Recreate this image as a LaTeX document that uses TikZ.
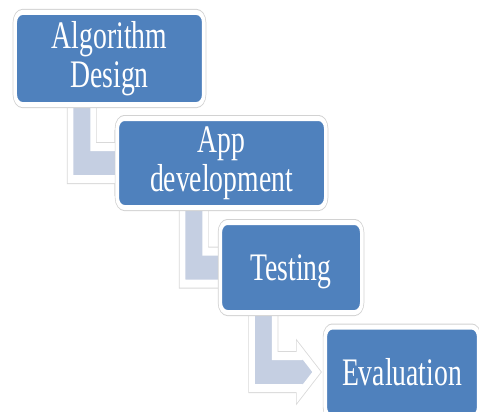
\documentclass[tikz,border=0pt]{standalone}
\usepackage{fontspec}
\setmainfont{Liberation Serif}
\usetikzlibrary{backgrounds,calc}
\definecolor{boxblue}{RGB}{79,129,189}
\definecolor{linkblue}{RGB}{197,207,226}
\newcommand\topstrut{\rule{0pt}{34.7pt}}
\newcommand\botstrut{\rule[-8.4pt]{0pt}{8.4pt}}
% bent arrow from one step down to the next
\newcommand\steplink[2]{%
	\path[link] let \p1=(#1.center), \p2=(#2.center) in
		(\x1-55pt,\y1) -- (\x1-55pt,\y2-16pt) -- (\x1+12pt,\y2-16pt) -- (\x1+12pt,\y2-22pt)
		-- (\x1+36pt,\y2) -- (\x1+12pt,\y2+22pt) -- (\x1+12pt,\y2+16pt)
		-- (\x1-23pt,\y2+16pt) -- (\x1-23pt,\y1) -- cycle;}

\begin{document}
\begin{tikzpicture}[x=1pt,y=-1pt,
	stepbox/.style={rectangle,rounded corners=10pt,fill=boxblue,draw=white,line width=5pt,
		preaction={draw=gray!35,line width=7pt},text=white,inner sep=0pt,align=center,
		font=\fontsize{39}{39}\selectfont,
		execute at begin node=\topstrut,execute at end node=\botstrut},
	link/.style={fill=linkblue,draw=white,line width=8pt,
		preaction={draw=gray!30,line width=10pt}}]
	\useasboundingbox (0,0) rectangle (479,412);
	\clip (0,0) rectangle (479,412);
	\begin{scope}[transform canvas={xscale=.71}]
		\node[stepbox,minimum width=265.6pt,minimum height=92pt] (design) at (154.2,58.5) {Algorithm\\Design};
		\node[stepbox,minimum width=293.7pt,minimum height=89pt] (appdev) at (312,163) {App\\development};
		\node[stepbox,minimum width=199.3pt,minimum height=90pt] (testing) at (409.9,267.5) {Testing};
		\node[stepbox,minimum width=216.2pt,minimum height=90pt] (evaluation) at (566.2,372) {Evaluation};
	\end{scope}
	\begin{scope}[on background layer={transform canvas={xscale=.71}}]
		\steplink{design}{appdev}
		\steplink{appdev}{testing}
		\steplink{testing}{evaluation}
	\end{scope}
\end{tikzpicture}
\end{document}
